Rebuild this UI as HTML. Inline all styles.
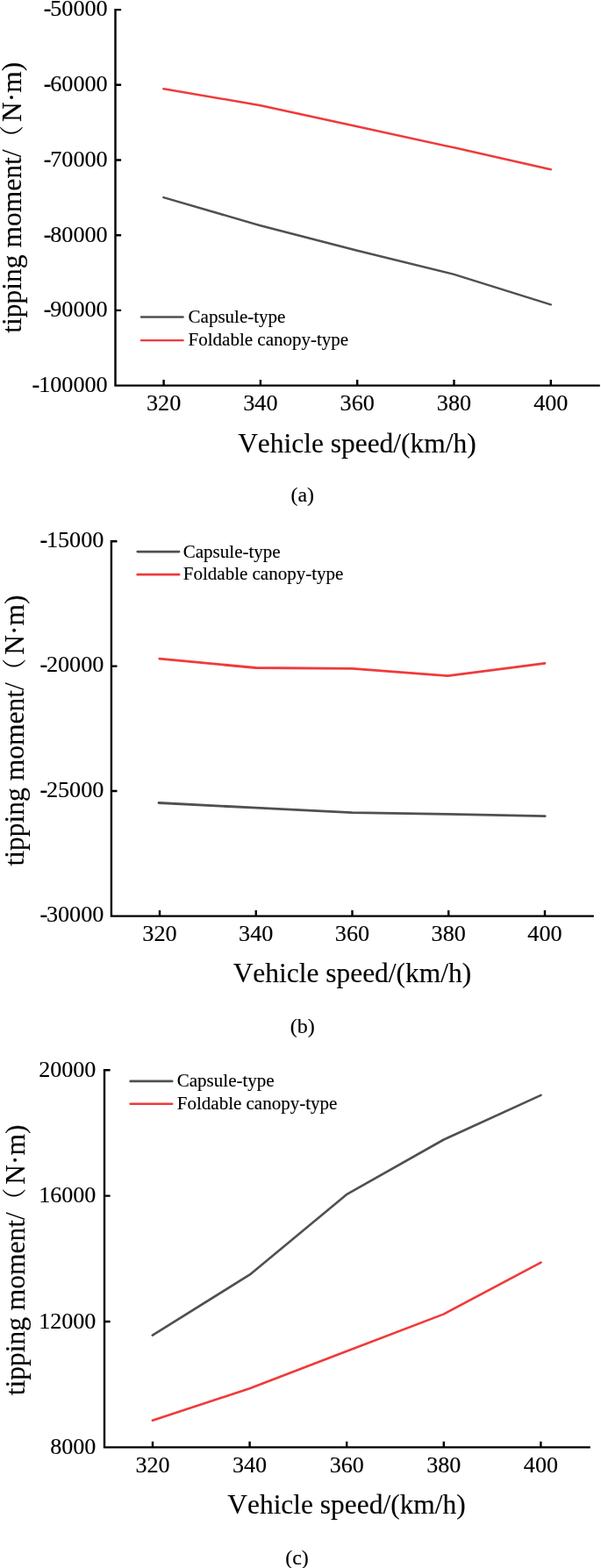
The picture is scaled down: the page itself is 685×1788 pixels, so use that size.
<!DOCTYPE html>
<html lang="en">
<head>
<meta charset="utf-8">
<title>Tipping moment vs vehicle speed</title>
<style>
html,body{margin:0;padding:0;background:#fff;}
body{width:685px;height:1788px;overflow:hidden;}
svg{display:block;}
text{font-family:"Liberation Serif", "Noto Serif CJK SC", serif;fill:#000;stroke:#000;stroke-width:0.15px;font-kerning:none;}
.tt{font-size:31.45px;}
.lg{font-size:21px;}
.cp{font-size:23.5px;}
.hb{font-weight:bold;}
.ax{stroke:#000;stroke-width:2.4;fill:none;stroke-linecap:square;}
.dr{stroke:#f03a3a;fill:none;stroke-linecap:round;stroke-linejoin:round;}
.dg{stroke:#505050;fill:none;stroke-linecap:round;stroke-linejoin:round;}
</style>
</head>
<body>
<svg width="685" height="1788" viewBox="0 0 685 1788">
<rect x="0" y="0" width="685" height="1788" fill="#fff"/>
<g style="font-size:26.2px;stroke-width:2.45px">
<path class="ax" d="M131.5 11.1V439.6H682.6"/>
<path class="ax" style="stroke-linecap:butt" d="M131.5 11.1h6.6M131.5 96.8h6.6M131.5 182.5h6.6M131.5 268.2h6.6M131.5 353.9h6.6M186.6 439.6v-6.6M296.9 439.6v-6.6M407.2 439.6v-6.6M517.5 439.6v-6.6M627.8 439.6v-6.6"/>
<text class="tk" text-anchor="end" x="121.5" y="18.4"><tspan class="hb" dx="1.2">-</tspan><tspan dx="-1.2">50000</tspan></text>
<text class="tk" text-anchor="end" x="121.5" y="104.1"><tspan class="hb" dx="1.2">-</tspan><tspan dx="-1.2">60000</tspan></text>
<text class="tk" text-anchor="end" x="121.5" y="189.8"><tspan class="hb" dx="1.2">-</tspan><tspan dx="-1.2">70000</tspan></text>
<text class="tk" text-anchor="end" x="121.5" y="275.5"><tspan class="hb" dx="1.2">-</tspan><tspan dx="-1.2">80000</tspan></text>
<text class="tk" text-anchor="end" x="121.5" y="361.2"><tspan class="hb" dx="1.2">-</tspan><tspan dx="-1.2">90000</tspan></text>
<text class="tk" text-anchor="end" x="121.5" y="446.9"><tspan class="hb" dx="1.2">-</tspan><tspan dx="-1.2">100000</tspan></text>
<text class="tk" text-anchor="middle" x="186.6" y="468.3">320</text>
<text class="tk" text-anchor="middle" x="296.9" y="468.3">340</text>
<text class="tk" text-anchor="middle" x="407.2" y="468.3">360</text>
<text class="tk" text-anchor="middle" x="517.5" y="468.3">380</text>
<text class="tk" text-anchor="middle" x="627.8" y="468.3">400</text>
<polyline class="dg" points="186.4,225.1 296.9,257.3 407.2,285.8 517.5,312.9 627.8,347.3"/>
<polyline class="dr" points="186.4,101.3 296.9,120.2 407.2,144.2 517.5,168.3 627.8,193.2"/>
<path class="dg" d="M161 361.4H208.6"/>
<path class="dr" d="M161 388.1H208.6"/>
<text class="lg" x="214.6" y="367.5">Capsule-type</text>
<text class="lg" x="214.6" y="394.2">Foldable canopy-type</text>
<text class="tt" style="font-size:31.5px" text-anchor="middle" transform="translate(24.1 225.2) rotate(-90)">tipping moment/<tspan font-size="27.5" dy="-1.6">（</tspan><tspan dx="4.1" dy="1.6">N·m)</tspan></text>
<text class="tt" text-anchor="middle" x="406.9" y="515.8">Vehicle speed/(km/h)</text>
<text class="cp" style="font-size:23.9px" text-anchor="middle" x="344.8" y="571.5">(a)</text>
</g>
<g style="font-size:26.2px;stroke-width:2.8px">
<path class="ax" d="M126.9 617.3V1044.6H675.7"/>
<path class="ax" style="stroke-linecap:butt" d="M126.9 617.3h6.6M126.9 759.6h6.6M126.9 902h6.6M182 1044.6v-6.6M291.75 1044.6v-6.6M401.5 1044.6v-6.6M511.25 1044.6v-6.6M621 1044.6v-6.6"/>
<text class="tk" text-anchor="end" x="117.2" y="624.1"><tspan class="hb" dx="1.2">-</tspan><tspan dx="-1.2">15000</tspan></text>
<text class="tk" text-anchor="end" x="117.2" y="766.4"><tspan class="hb" dx="1.2">-</tspan><tspan dx="-1.2">20000</tspan></text>
<text class="tk" text-anchor="end" x="117.2" y="908.8"><tspan class="hb" dx="1.2">-</tspan><tspan dx="-1.2">25000</tspan></text>
<text class="tk" text-anchor="end" x="117.2" y="1051.4"><tspan class="hb" dx="1.2">-</tspan><tspan dx="-1.2">30000</tspan></text>
<text class="tk" text-anchor="middle" x="182" y="1072.8">320</text>
<text class="tk" text-anchor="middle" x="291.75" y="1072.8">340</text>
<text class="tk" text-anchor="middle" x="401.5" y="1072.8">360</text>
<text class="tk" text-anchor="middle" x="511.25" y="1072.8">380</text>
<text class="tk" text-anchor="middle" x="621" y="1072.8">400</text>
<polyline class="dg" points="181,915.5 291.75,921.2 401.5,926.7 511.25,928.4 621.2,930.7"/>
<polyline class="dr" points="181.8,751.2 291.5,761.5 401.5,762.4 510.5,770.7 621,756.4"/>
<path class="dg" d="M156.8 629.1H204"/>
<path class="dr" d="M156.8 655.2H204"/>
<text class="lg" x="208.8" y="636">Capsule-type</text>
<text class="lg" x="208.8" y="661.3">Foldable canopy-type</text>
<text class="tt" style="font-size:31.5px" text-anchor="middle" transform="translate(27.1 833) rotate(-90)">tipping moment/<tspan font-size="27.5" dy="-1.6">（</tspan><tspan dx="4.1" dy="1.6">N·m)</tspan></text>
<text class="tt" text-anchor="middle" x="401.4" y="1119.9">Vehicle speed/(km/h)</text>
<text class="cp" style="font-size:24.1px" text-anchor="middle" x="344.7" y="1178">(b)</text>
</g>
<g style="font-size:26.1px;stroke-width:2.6px">
<path class="ax" d="M119 1220.2V1650.4H671.6"/>
<path class="ax" style="stroke-linecap:butt" d="M119 1220.2h6.6M119 1363.6h6.6M119 1507h6.6M174 1650.4v-6.6M284.6 1650.4v-6.6M395.2 1650.4v-6.6M505.8 1650.4v-6.6M616.4 1650.4v-6.6"/>
<text class="tk" text-anchor="end" x="109.4" y="1227.8">20000</text>
<text class="tk" text-anchor="end" x="109.4" y="1371.2">16000</text>
<text class="tk" text-anchor="end" x="109.4" y="1514.6">12000</text>
<text class="tk" text-anchor="end" x="109.4" y="1658">8000</text>
<text class="tk" text-anchor="middle" x="174" y="1679">320</text>
<text class="tk" text-anchor="middle" x="284.6" y="1679">340</text>
<text class="tk" text-anchor="middle" x="395.2" y="1679">360</text>
<text class="tk" text-anchor="middle" x="505.8" y="1679">380</text>
<text class="tk" text-anchor="middle" x="616.4" y="1679">400</text>
<polyline class="dg" points="173.8,1522.6 284.8,1453.4 394.9,1362.2 505.8,1299.5 616.5,1248.9"/>
<polyline class="dr" points="173.8,1619.7 284.6,1583.3 395.2,1540.8 505.4,1498.6 616.5,1439.7"/>
<path class="dg" d="M148.6 1232.9H196.2"/>
<path class="dr" d="M148.6 1258.8H196.2"/>
<text class="lg" x="201.8" y="1238.7">Capsule-type</text>
<text class="lg" x="201.8" y="1264.9">Foldable canopy-type</text>
<text class="tt" style="font-size:31.5px" text-anchor="middle" transform="translate(28 1436.9) rotate(-90)">tipping moment/<tspan font-size="27.5" dy="-1.6">（</tspan><tspan dx="4.1" dy="1.6">N·m)</tspan></text>
<text class="tt" text-anchor="middle" x="395" y="1726">Vehicle speed/(km/h)</text>
<text class="cp" style="font-size:23.9px" text-anchor="middle" x="338.5" y="1783.8">(c)</text>
</g>
</svg>
</body>
</html>
